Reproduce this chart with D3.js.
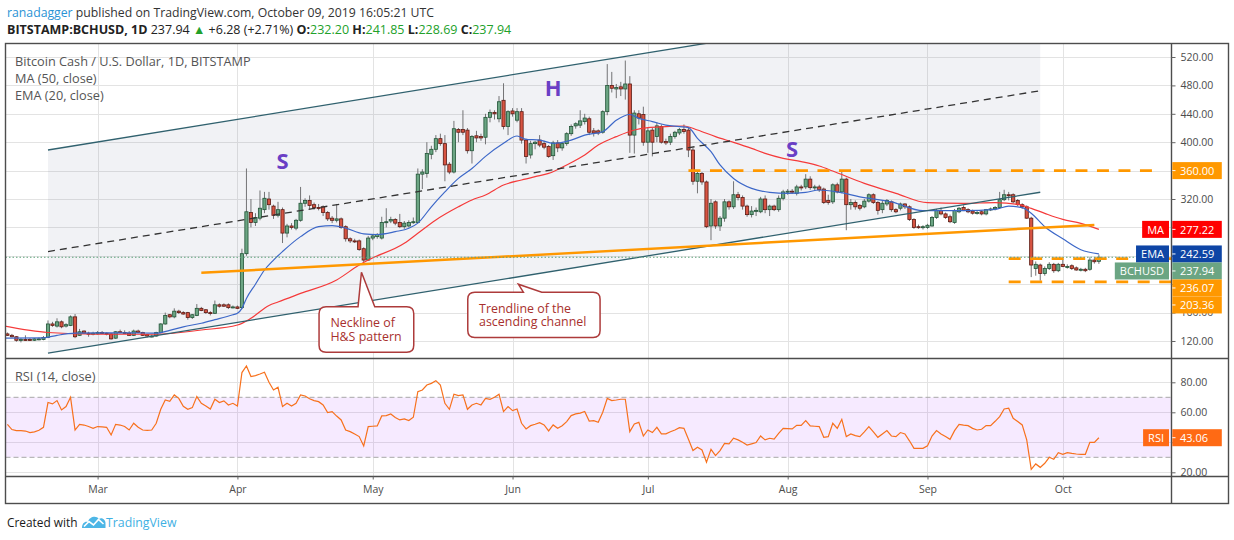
<!DOCTYPE html>
<html><head><meta charset="utf-8">
<script src="https://cdn.jsdelivr.net/npm/d3@7"></script>
<style>
html,body{margin:0;padding:0;background:#fff;}
svg{display:block;}
</style></head><body>
<svg id="c" width="1234" height="540"></svg>
<script>
// ---------------- DATA ----------------
const firstDay = "2019-02-09";
const opens = [
130,128,126,121,122,122,121,122,122,125,144,141,147,141,142,154,128,134,131,130,
130,132,131,130,124,133,132,131,128,134,132,129,127,127,132,144,157,154,162,160,160,153,156,166,164,160,159,171,171,171,168,
168,167,243,301,287,293,305,320,310,297,305,272,282,279,290,314,318,312,308,309,301,293,290,292,281,264,261,261,250,234,
265,267,265,287,289,291,287,281,282,287,287,355,356,383,390,405,398,369,358,418,418,417,388,409,408,407,435,442,433,459,422,
444,431,443,403,382,398,403,398,394,381,399,392,398,412,423,424,429,433,416,416,414,443,480,475,478,475,482,410,440,439,
400,417,408,422,401,400,408,413,418,417,389,345,356,344,282,316,282,293,316,309,326,322,310,298,303,302,320,305,310,305,321,
330,331,328,337,337,348,336,337,334,318,316,340,330,348,312,315,311,309,317,326,315,305,313,316,305,307,313,309,291,281,280,
280,282,294,304,299,295,287,302,308,305,303,301,302,299,305,306,308,319,326,326,318,312,309,293,222,227,215,222,228,219,
228,225,226,223,220,221,221,234,232.2];
const highs = [
132,130,127,124,128,124,124,125,127,149,147,152,149,145,156,158,137,135,133,133,
134,134,132,131,134,136,135,134,136,136,133,130,129,133,145,160,158,166,164,162,161,158,172,168,165,162,177,173,173,173,170,
170,250,363,320,300,332,330,330,312,316,308,285,286,292,337,321,325,315,313,311,303,296,313,294,283,266,264,263,252,268,
270,272,295,307,295,293,299,289,290,294,363,362,400,395,410,412,410,372,430,420,445,420,410,416,412,440,446,445,465,483,445,
448,448,448,405,402,402,410,402,396,402,403,400,414,425,428,445,440,436,420,418,445,510,499,482,485,515,493,445,445,450,
420,420,428,425,405,412,416,420,425,420,392,360,358,346,320,318,296,320,318,345,330,325,312,310,308,323,325,312,312,325,333,
334,334,340,340,355,352,340,340,336,326,342,343,360,350,320,318,313,320,328,328,317,318,320,318,307,315,314,311,293,284,283,
285,296,306,308,301,298,306,309,311,307,305,304,304,306,308,310,330,333,330,328,320,314,311,295,232,229,225,231,230,230,
236,228,228,225,223,223,238,238,241.85];
const lows = [
127,125,119,118,120,120,120,121,121,124,140,139,138,139,141,124,127,130,126,128,
129,130,128,122,123,131,130,127,127,131,127,125,125,126,131,143,152,152,158,157,150,151,155,162,158,156,158,167,168,165,166,
165,165,240,280,282,290,300,305,292,294,258,266,277,276,288,309,306,305,304,296,289,286,287,278,260,258,258,247,231,233,
262,264,263,280,286,283,279,278,280,285,286,334,350,376,386,395,345,355,356,400,410,384,370,400,402,397,428,432,428,418,410,
436,428,398,370,377,390,393,390,378,375,386,388,395,409,419,420,425,410,408,410,412,438,470,462,465,460,385,384,425,395,
385,380,400,398,396,396,405,410,412,379,340,328,340,279,262,278,275,288,305,306,318,305,295,294,296,300,300,296,303,302,318,
326,327,325,332,334,333,332,330,313,312,313,328,328,276,305,305,304,307,315,313,298,300,310,302,300,304,306,289,278,278,277,
278,281,292,297,292,286,285,300,303,300,298,298,297,297,303,304,306,317,318,314,310,306,292,210,212,205,212,220,216,217,
224,222,220,219,218,217,219,229,228.69];
const closes = [
128,126,121,122,121,121,123,123,125,144,142,147,140,143,154,126,133,131,130,131,
132,131,130,123,133,132,131,128,134,132,128,127,127,132,144,156,154,162,160,158,153,157,166,163,160,159,171,169,169,167,168,
166,243,302,287,294,307,321,312,297,305,272,282,280,290,314,318,311,308,307,301,292,290,292,280,264,261,260,249,234,265,
268,270,287,288,291,286,281,286,287,288,355,358,384,390,405,398,368,358,419,414,414,388,408,406,406,435,442,440,457,422,443,
440,443,403,380,398,400,396,393,380,399,392,398,412,422,426,430,434,414,413,413,443,480,476,477,475,482,410,441,434,400,
416,400,423,400,399,408,414,418,415,389,345,356,344,281,314,282,293,316,309,326,322,310,298,303,304,320,305,310,305,321,330,
331,330,337,336,348,336,337,333,315,315,340,330,348,312,315,309,307,317,326,315,304,314,318,305,302,313,309,291,280,280,281,
283,294,304,299,294,288,304,307,304,302,300,301,299,305,306,308,319,326,325,316,312,309,293,227,228,215,222,228,219,228,
225,225,222,220,221,219,234,231.66,237.94];
const rsi = [
52,48.5,47.8,47.8,47.5,46.5,47,48,50,66.5,65.6,67.8,61.6,63.8,70,48.2,52,51.5,50.5,49.3,
50.5,50.3,50,44.9,52,51.5,50.5,48.2,52.7,50,48.2,48,48.2,52.7,62,68.2,67.3,71.6,69.3,64,62,63.1,70.5,66,64.2,62.2,68.7,66.5,67.6,64.9,66,
64.2,86.5,90.9,83.8,84.5,85.5,86.7,80,74.9,76.7,63.8,66,64.2,66,71.6,70.9,69,67.8,67.1,64.9,59.8,60.5,57.5,54.9,48.2,47.1,45.5,43.8,37.6,50.5,
50.7,50.9,57.6,57.8,58.9,56.5,54.9,55.6,54.5,56.7,73.8,74.9,78.2,79.3,81.1,78.2,66,62,72,71.1,71.6,62,64.9,66,64.9,69.3,68.7,70,72,60.5,63.8,
61.1,62.2,52.7,48.9,51.1,52,53.1,51.6,47.6,51.6,49.3,51,53.8,57.8,58.9,59.5,60.5,54.2,54.4,53.3,60,69.3,67.8,68.2,68.7,68.7,47.1,52.2,53.3,44.2,
48.2,46.5,50,45.6,45.6,47,48.2,49.8,49.3,42,34.5,36.7,34.9,26.7,35.3,31.1,34.5,39.3,38.9,42.7,41.6,40,38.2,39,39.8,44.2,41.6,42.7,42.2,46,49.3,
49.1,48.9,51.3,51.3,54.5,50.9,50.7,50.5,43.3,43.8,52.7,49.3,55.3,43.8,45.6,44.5,43.8,47,50.5,47,43.3,45.5,47.8,44.2,43.8,46.5,45.6,41,36,36,36,
37.6,44.2,47.8,45.6,43.8,42,47.8,52,51.5,51.1,49.3,48.2,48.7,51.1,51.1,54,57.1,62.2,62.7,56,53.8,51.6,41.6,22,25.6,23.3,26,30,28.7,33.1,
32,33.1,32.6,32.2,32,32,40,40,43.06];

const maDates = ["2019-02-08","2019-02-18","2019-03-01","2019-03-14","2019-03-24","2019-04-01","2019-04-04","2019-04-08","2019-04-10","2019-04-15","2019-04-23","2019-04-28","2019-04-30","2019-05-08","2019-05-11","2019-05-15","2019-05-20","2019-05-23","2019-05-26","2019-05-30","2019-06-03","2019-06-06","2019-06-09","2019-06-13","2019-06-17","2019-06-20","2019-06-24","2019-06-28","2019-07-01","2019-07-05","2019-07-09","2019-07-12","2019-07-16","2019-07-20","2019-07-24","2019-07-27","2019-07-31","2019-08-04","2019-08-08","2019-08-11","2019-08-18","2019-08-25","2019-09-01","2019-09-09","2019-09-16","2019-09-21","2019-09-24","2019-09-27","2019-10-01","2019-10-05","2019-10-09"];
const maValues = [141.5,132,129.5,129.5,135.5,142.5,152,170,175,187,206,227,234,257.6,271.7,290.5,309,318.6,325.7,339.7,346.8,351.5,356,368,382,396,407.8,417.2,420.5,421.9,422.8,417.2,407.8,399.8,391.3,384.3,377.3,372.6,366.5,359.4,342,328,314.8,313.9,314.8,312.5,306.8,299.8,291.3,285.7,277.22];

const emaDates = ["2019-02-08","2019-02-17","2019-02-20","2019-02-24","2019-03-03","2019-03-09","2019-03-14","2019-03-17","2019-03-20","2019-03-24","2019-03-27","2019-03-31","2019-04-01","2019-04-02","2019-04-03","2019-04-05","2019-04-07","2019-04-09","2019-04-11","2019-04-15","2019-04-19","2019-04-22","2019-04-25","2019-04-29","2019-05-02","2019-05-06","2019-05-09","2019-05-11","2019-05-14","2019-05-17","2019-05-20","2019-05-23","2019-05-26","2019-05-30","2019-06-02","2019-06-04","2019-06-07","2019-06-10","2019-06-14","2019-06-17","2019-06-21","2019-06-24","2019-06-27","2019-06-29","2019-07-02","2019-07-05","2019-07-08","2019-07-10","2019-07-12","2019-07-15","2019-07-17","2019-07-20","2019-07-24","2019-07-28","2019-08-01","2019-08-05","2019-08-08","2019-08-12","2019-08-17","2019-08-24","2019-08-31","2019-09-09","2019-09-16","2019-09-19","2019-09-22","2019-09-24","2019-09-27","2019-10-01","2019-10-05","2019-10-09"];
const emaValues = [124,124.5,128,131,131.5,131.5,131,135,140,145,150,157,159,166,180,200,220,234,246,267,281,282.5,279,271,270,274,278.7,286,309,330,349,363,380,398.5,408.7,404,403,398.4,403,410,414.8,431,439,433.6,429,424,422,420.5,405.4,386.6,368,349,335,329.4,328,329.4,332.7,330,323,316,303.5,303.5,305.4,310,307.8,300,281,264,248.5,242.59];

const priceTicks = [120,160,200,240,280,320,360,400,440,480,520];
const rsiTicks = [20,40,60,80];
const monthTicks = ["2019-03-01","2019-04-01","2019-05-01","2019-06-01","2019-07-01","2019-08-01","2019-09-01","2019-10-01"];

// drawings (annotations)
const channelDates = ["2019-02-18","2019-09-26"];
const channelLower = [103,329.5];
const channelMid = [246,472.5];
const channelUpper = [389,615.5];
const neckDates = ["2019-03-24","2019-10-08"];
const neckPrices = [216,283.5];
const levelPrices = [360,236.07,203.36];
const levelStarts = ["2019-07-10","2019-09-19","2019-09-19"];
const levelEnds = ["2019-10-22","2019-10-25","2019-10-25"];
const patternLabels = ["S","H","S"];
const patternDates = ["2019-04-11","2019-06-10","2019-08-02"];
const patternPrices = [374.9,478.2,391.4];
const rsiBand = [30,70];

// ---------------- SETUP ----------------
const parse = d3.utcParse("%Y-%m-%d");
const days = opens.map((_, i) => d3.utcDay.offset(parse(firstDay), i));
const n = days.length;
const L = 5.5, R = 1171.5, T = 43.5, PB = 358.5, RB = 476.5, B = 503.5, FR = 1228.5;
const FONT = "'Open Sans', 'Liberation Sans', sans-serif";

const x = d3.scaleUtc().domain([parse("2019-03-01"), parse("2019-10-01")]).range([97.6, 1062.8]);
const yP = d3.scaleLinear().domain([120, 520]).range([341, 57]);
const yR = d3.scaleLinear().domain([20, 80]).range([472.3, 382.3]);

const svg = d3.select("#c");
svg.append("rect").attr("width",1234).attr("height",540).attr("fill","#fff");
const defs = svg.append("defs");
defs.append("clipPath").attr("id","clipP").append("rect").attr("x",L).attr("y",T).attr("width",R-L).attr("height",PB-T);
defs.append("clipPath").attr("id","clipR").append("rect").attr("x",L).attr("y",PB).attr("width",R-L).attr("height",RB-PB);

// gridlines
const grid = svg.append("g").attr("stroke","#e3e3e3").attr("stroke-width",1);
priceTicks.forEach(v => grid.append("line").attr("x1",L).attr("x2",R).attr("y1",Math.round(yP(v))+0.5).attr("y2",Math.round(yP(v))+0.5));
rsiTicks.forEach(v => grid.append("line").attr("x1",L).attr("x2",R).attr("y1",Math.round(yR(v))+0.5).attr("y2",Math.round(yR(v))+0.5));
monthTicks.forEach(m => grid.append("line").attr("x1",Math.round(x(parse(m)))+0.5).attr("x2",Math.round(x(parse(m)))+0.5).attr("y1",T).attr("y2",RB));

// ---------------- PRICE PANE ----------------
const pg = svg.append("g").attr("clip-path","url(#clipP)");
const cd = channelDates.map(parse);
pg.append("path")
  .attr("d", `M${x(cd[0])},${yP(channelUpper[0])}L${x(cd[1])},${yP(channelUpper[1])}L${x(cd[1])},${yP(channelLower[1])}L${x(cd[0])},${yP(channelLower[0])}Z`)
  .attr("fill","rgba(115,125,155,0.1)");

// candles
const wickG = pg.append("g").attr("stroke","#737375").attr("stroke-width",1);
const bodyG = pg.append("g");
for (let i = 0; i < n; i++) {
  const cx = x(days[i]);
  const up = closes[i] >= opens[i];
  wickG.append("line").attr("x1",cx).attr("x2",cx).attr("y1",yP(highs[i])).attr("y2",yP(lows[i]));
  const top = yP(Math.max(opens[i], closes[i]));
  const h = Math.max(1, Math.abs(yP(opens[i]) - yP(closes[i])));
  bodyG.append("rect").attr("x",cx-1.6).attr("width",3.2).attr("y",top).attr("height",h)
    .attr("fill", up ? "#6ba583" : "#d75442").attr("stroke", up ? "#225437" : "#5b1a13").attr("stroke-width",0.8);
}

// MA & EMA
const lineGen = d3.line().x(d => x(d[0])).y(d => yP(d[1])).curve(d3.curveMonotoneX);
pg.append("path").attr("d", lineGen(maDates.map((d,i)=>[parse(d), maValues[i]])))
  .attr("fill","none").attr("stroke","#f53a3a").attr("stroke-width",1.2);
pg.append("path").attr("d", lineGen(emaDates.map((d,i)=>[parse(d), emaValues[i]])))
  .attr("fill","none").attr("stroke","#3d68c8").attr("stroke-width",1.2);

// channel lines
const seg = (dates, vals) => `M${x(parse(dates[0]))},${yP(vals[0])}L${x(parse(dates[1]))},${yP(vals[1])}`;
pg.append("path").attr("d", seg(channelDates, channelUpper)).attr("stroke","#30616e").attr("stroke-width",1.3).attr("fill","none");
pg.append("path").attr("d", seg(channelDates, channelLower)).attr("stroke","#30616e").attr("stroke-width",1.3).attr("fill","none");
pg.append("path").attr("d", seg(channelDates, channelMid)).attr("stroke","#333").attr("stroke-width",1.3).attr("stroke-dasharray","7,5").attr("fill","none");
// neckline
pg.append("path").attr("d", seg(neckDates, neckPrices)).attr("stroke","#ff9800").attr("stroke-width",2.5).attr("fill","none");
// levels
levelPrices.forEach((p,i) => {
  pg.append("line").attr("x1",x(parse(levelStarts[i]))).attr("x2",x(parse(levelEnds[i])))
    .attr("y1",yP(p)).attr("y2",yP(p)).attr("stroke","#ff9800").attr("stroke-width",2.8).attr("stroke-dasharray","12,9.5");
});
// current price dotted line
pg.append("line").attr("x1",L).attr("x2",R).attr("y1",yP(closes[n-1])).attr("y2",yP(closes[n-1]))
  .attr("stroke","#5ea27a").attr("stroke-width",1).attr("stroke-dasharray","1.5,2");

// S H S
patternLabels.forEach((t,i) => {
  pg.append("text").attr("x",x(parse(patternDates[i]))).attr("y",yP(patternPrices[i]))
    .attr("text-anchor","middle").attr("dominant-baseline","central")
    .attr("font-family",FONT).attr("font-weight","bold").attr("font-size",22).attr("fill","#6a3fc5").text(t);
});

// callouts
function calloutPath(bx0, by0, bx1, by1, r, px0, px1, tx, ty) {
  return `M${bx0+r},${by0}L${px0},${by0}L${tx},${ty}L${px1},${by0}L${bx1-r},${by0}Q${bx1},${by0} ${bx1},${by0+r}L${bx1},${by1-r}Q${bx1},${by1} ${bx1-r},${by1}L${bx0+r},${by1}Q${bx0},${by1} ${bx0},${by1-r}L${bx0},${by0+r}Q${bx0},${by0} ${bx0+r},${by0}Z`;
}
const callouts = [
  {tipDate:"2019-04-28T12:00:00Z", tipPrice:216.8, box:[-42.4,34.4,52.3,80], base:[-3.4,13.3], lines:["Neckline of","H&S pattern"], tx:-31, ty:[54.3,68.3]},
  {tipDate:"2019-06-02T07:00:00Z", tipPrice:200, box:[-50.6,8,81.7,53.4], base:[5,23.4], lines:["Trendline of the","ascending channel"], tx:-39.3, ty:[28.3,42.1]}
];
const cg = svg.append("g");
const calloutTexts = [];
callouts.forEach(c => {
  const tx = x(d3.isoParse(c.tipDate)), ty = yP(c.tipPrice);
  cg.append("path").attr("d", calloutPath(tx+c.box[0], ty+c.box[1], tx+c.box[2], ty+c.box[3], 7, tx+c.base[0], tx+c.base[1], tx, ty))
    .attr("fill","#fff").attr("stroke","#ad3b3b").attr("stroke-width",1.5);
  c.lines.forEach((ln,j) => {
    calloutTexts.push(cg.append("text").attr("x",tx+c.tx).attr("y",ty+c.ty[j]).attr("font-family",FONT)
      .attr("font-size",13).attr("fill","#a8302d").text(ln));
  });
});
(function(){
  const t = calloutTexts[3]; const w = t.node().getComputedTextLength();
  const fs = 13*107.5/w; calloutTexts.forEach(s => s.attr("font-size", fs));
})();

// ---------------- RSI PANE ----------------
const rg = svg.append("g").attr("clip-path","url(#clipR)");
rg.append("rect").attr("x",L).attr("width",R-L).attr("y",yR(rsiBand[1])).attr("height",yR(rsiBand[0])-yR(rsiBand[1])).attr("fill","rgba(153,21,255,0.09)");
rsiBand.forEach(v => rg.append("line").attr("x1",L).attr("x2",R).attr("y1",yR(v)).attr("y2",yR(v))
  .attr("stroke","#a8a8a8").attr("stroke-width",1).attr("stroke-dasharray","5,3"));
rg.append("path").attr("d", d3.line().x((d,i)=>x(days[i])).y(d=>yR(d))(rsi))
  .attr("fill","none").attr("stroke","#f7711d").attr("stroke-width",1.2);

// ---------------- FRAMES ----------------
const fr = svg.append("g").attr("stroke","#4d4d4d").attr("stroke-width",1.4).attr("fill","none");
fr.append("rect").attr("x",L).attr("y",T).attr("width",FR-L).attr("height",B-T);
fr.append("line").attr("x1",R).attr("x2",R).attr("y1",T).attr("y2",B);
fr.append("line").attr("x1",L).attr("x2",FR).attr("y1",PB).attr("y2",PB);
fr.append("line").attr("x1",L).attr("x2",FR).attr("y1",RB).attr("y2",RB);

// ---------------- AXIS LABEL BOXES (positions first) ----------------
const BH = 17;
const boxes = [
  {name:null, value:levelPrices[0], color:"#ff9800", y:yP(levelPrices[0])},
  {name:"MA", value:maValues[maValues.length-1], color:"#ff0000", y:yP(maValues[maValues.length-1])},
  {name:"EMA", value:emaValues[emaValues.length-1], color:"#0e45a5", y:yP(emaValues[emaValues.length-1])},
  {name:"BCHUSD", value:closes[n-1], color:"#6ba583", y:yP(closes[n-1])},
  {name:null, value:levelPrices[1], color:"#ff9800", y:yP(levelPrices[1])},
  {name:null, value:levelPrices[2], color:"#ff9800", y:yP(levelPrices[2])}
].sort((a,b)=>a.y-b.y);
let prevBottom = -1e9;
boxes.forEach(b => { b.top = Math.max(b.y - BH/2, prevBottom); prevBottom = b.top + BH; });
const rsiBox = {name:"RSI", value:rsi[n-1], color:"#ff6a14", top:yR(rsi[n-1]) - BH/2};
const allBoxes = boxes.concat([rsiBox]);
const covered = yy => allBoxes.some(b => yy > b.top - 1 && yy < b.top + BH - 3);

// ---------------- AXES ----------------
function styleAxis(g) {
  g.select(".domain").remove();
  g.attr("font-family", FONT).attr("font-size", 10.5);
  g.selectAll("line").attr("stroke","#666");
  g.selectAll("text").attr("fill","#4c4c4c");
}
svg.append("g").attr("transform",`translate(${R},0)`)
  .call(d3.axisRight(yP).tickValues(priceTicks).tickSize(4).tickPadding(5).tickFormat(d3.format(".2f"))).call(styleAxis)
  .selectAll(".tick").filter(d => covered(yP(d))).select("text").remove();
svg.append("g").attr("transform",`translate(${R},0)`)
  .call(d3.axisRight(yR).tickValues(rsiTicks).tickSize(4).tickPadding(5).tickFormat(d3.format(".2f"))).call(styleAxis)
  .selectAll(".tick").filter(d => covered(yR(d))).select("text").remove();
svg.append("g").attr("transform",`translate(0,${RB})`)
  .call(d3.axisBottom(x).tickValues(monthTicks.map(parse)).tickSize(3).tickPadding(6).tickFormat(d3.utcFormat("%b"))).call(styleAxis);

// ---------------- DRAW BOXES ----------------
const lb = svg.append("g").attr("font-family",FONT).attr("font-size",11);
function drawBox(b) {
  const top = b.top, cy = top + BH/2;
  lb.append("rect").attr("x",R+0.8).attr("y",top).attr("width",49.5).attr("height",BH).attr("fill",b.color);
  lb.append("line").attr("x1",R+0.8).attr("x2",R+4).attr("y1",cy).attr("y2",cy).attr("stroke","#fff").attr("stroke-width",1);
  lb.append("text").attr("x",1180).attr("y",cy).attr("dominant-baseline","central").attr("fill","#fff").text(b.value.toFixed(2));
  if (b.name) {
    const t = lb.append("text").attr("x",0).attr("y",cy).attr("dominant-baseline","central").attr("fill","#fff").text(b.name);
    const w = t.node().getComputedTextLength() + 10;
    lb.insert("rect", () => t.node()).attr("x",R-2.5-w).attr("y",top).attr("width",w).attr("height",BH).attr("fill",b.color);
    t.attr("x", R-2.5-w+5);
  }
}
allBoxes.forEach(drawBox);

// ---------------- TEXTS ----------------
function fit(sel, target) {
  const fs = parseFloat(sel.attr("font-size"));
  const w = sel.node().getComputedTextLength();
  const nf = fs*target/w; sel.attr("font-size", nf); return nf;
}
const h1 = svg.append("text").attr("x",7).attr("y",17).attr("font-family",FONT).attr("font-size",13);
h1.append("tspan").attr("fill","#2a93d5").text("ranadagger");
h1.append("tspan").attr("fill","#333").text(" published on TradingView.com, October 09, 2019 16:05:21 UTC");
fit(h1, 427);

const chg = closes[n-1]-closes[n-2];
const h2 = svg.append("text").attr("x",7).attr("y",34).attr("font-family",FONT).attr("font-size",13).attr("fill","#222");
const G = "#22a12a";
[["BITSTAMP:BCHUSD, 1D ","bold","#222"],[closes[n-1].toFixed(2)+" ","normal","#222"],["▲","normal",G],
 [" +"+chg.toFixed(2)+" (+"+(chg/closes[n-2]*100).toFixed(2)+"%) ","normal","#222"],
 ["O:","bold","#222"],[opens[n-1].toFixed(2),"normal",G],[" H:","bold","#222"],[highs[n-1].toFixed(2),"normal",G],
 [" L:","bold","#222"],[lows[n-1].toFixed(2),"normal",G],[" C:","bold","#222"],[closes[n-1].toFixed(2),"normal",G]]
 .forEach(p => h2.append("tspan").attr("font-weight",p[1]).attr("fill",p[2]).text(p[0]));
fit(h2, 505);

const t1 = svg.append("text").attr("x",15).attr("y",65.5).attr("font-family",FONT).attr("font-size",12.5).attr("fill","#555").text("Bitcoin Cash / U.S. Dollar, 1D, BITSTAMP");
const fsT = fit(t1, 236);
svg.append("text").attr("x",15).attr("y",83).attr("font-family",FONT).attr("font-size",fsT).attr("fill","#555").text("MA (50, close)");
svg.append("text").attr("x",15).attr("y",99.5).attr("font-family",FONT).attr("font-size",fsT).attr("fill","#555").text("EMA (20, close)");
svg.append("text").attr("x",15).attr("y",381).attr("font-family",FONT).attr("font-size",fsT).attr("fill","#555").text("RSI (14, close)");

// footer
const ft = svg.append("text").attr("x",7).attr("y",527).attr("font-family",FONT).attr("font-size",13).attr("fill","#1a1a1a").text("Created with");
fit(ft, 70.5);
const logo = svg.append("g");
logo.append("path").attr("d","M82,528 C82,523 85,521 88,522 C89,517 96,515 99,519 C102,517 106,520 105.5,524 L105.5,528 Z").attr("fill","#4db6e6");
logo.append("path").attr("d","M84,526.5 L89,521.5 L93.5,525 L98.5,519.5 L103.5,524").attr("fill","none").attr("stroke","#fff").attr("stroke-width",1.6);
const tv = svg.append("text").attr("x",106).attr("y",527).attr("font-family",FONT).attr("font-size",13).attr("fill","#3fb0e3").text("TradingView");
fit(tv, 70.5);
</script>
</body></html>
